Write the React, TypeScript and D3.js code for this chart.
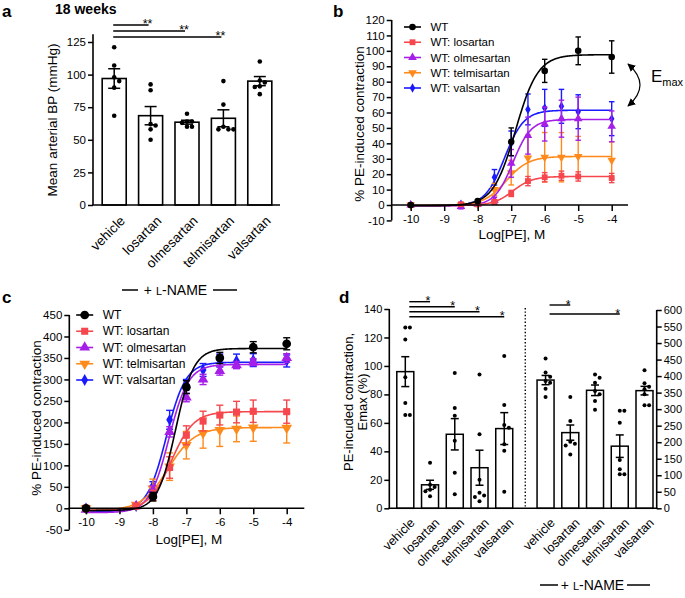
import React, { useEffect, useRef } from 'react';
import * as d3 from 'd3';

const FONT = '"Liberation Sans", Arial, Helvetica, sans-serif';

// ---- panel a: mean arterial BP, 18 weeks
const drugs = ['vehicle', 'losartan', 'olmesartan', 'telmisartan', 'valsartan'];
const bpMean = [97, 68.5, 63.5, 66.5, 95];
const bpSem = [7.5, 7, 1.5, 6.5, 3.5];
const bpDots = [
  [121, 107, 98, 95, 90, 68.5],
  [92.5, 88, 62, 61, 58, 50],
  [70, 64, 64, 63, 60, 60],
  [95, 77, 60, 58, 58, 58],
  [110, 95.5, 94, 91, 90.5, 85],
];
const bpTicks = [0, 25, 50, 75, 100, 125];
const bpSig: [number, number, string][] = [[0, 1, '**'], [0, 2, '**'], [0, 3, '**']];

// ---- panels b, c: PE concentration-response
const series = ['WT', 'WT: losartan', 'WT: olmesartan', 'WT: telmisartan', 'WT: valsartan'];
const seriesColors = ['#000000', '#F5474D', '#A51FE8', '#FF8A1C', '#1A1AFF'];
const wtDoses = [-10, -8, -7, -6, -5, -4];
const arbDoses = [-10, -8.5, -8, -7.5, -7, -6.5, -6, -5.5, -5, -4];
const doseTicks = [-10, -9, -8, -7, -6, -5, -4];

const peTicks = [-10, 0, 10, 20, 30, 40, 50, 60, 70, 80, 90, 100, 110, 120];
const peMean = [
  [0, 2.5, 41, 87, 100, 96],
  [0, 0.5, 0.5, 2, 7.5, 15.5, 18, 19, 18.5, 17.5],
  [0, -1, 0.5, 3, 27, 45, 52.5, 56, 56, 51],
  [0, 0, 0.5, 10, 21, 30.5, 31, 31, 31.5, 29],
  [0, 0.5, 1.5, 18, 40, 62, 63, 64, 60.5, 56],
];
const peSem = [
  [1, 1, 9, 7.5, 9, 10.5],
  [1, 1, 1, 1.5, 2, 3, 3, 3, 3, 3],
  [0.5, 1.5, 1, 2, 9, 12, 11, 12, 14, 10],
  [0.5, 0.5, 1, 4, 8, 15, 16, 16, 13, 12],
  [0.5, 0.5, 1, 5, 8, 10, 12, 11, 11, 11],
];
// fitted curves: bottom, top, logEC50, hill slope
const peFit = [
  [-0.5, 97.5, -6.87, 1.3],
  [-0.3, 18.5, -6.95, 1.5],
  [-0.5, 55.5, -6.95, 1.6],
  [-0.3, 31.5, -7.15, 1.3],
  [-0.5, 61.5, -7.2, 1.5],
];

const lnTicks = [-50, 0, 50, 100, 150, 200, 250, 300, 350, 400, 450];
const lnMean = [
  [0, 27, 282, 350, 375, 383],
  [0, 5, 30, 95, 170, 203, 217, 224, 226, 225],
  [-3, 5, 42, 178, 258, 300, 320, 333, 340, 350],
  [0, 8, 46, 97, 147, 175, 182, 185, 188, 187],
  [0, 5, 52, 206, 288, 322, 344, 343, 345, 343],
];
const lnSem = [
  [3, 10, 15, 13, 13, 14],
  [3, 4, 12, 25, 22, 23, 23, 25, 26, 27],
  [3, 4, 10, 12, 10, 12, 10, 8, 8, 10],
  [3, 4, 22, 32, 32, 35, 38, 30, 32, 35],
  [3, 4, 10, 22, 12, 15, 15, 16, 15, 14],
];
const lnFit = [
  [-5, 372, -7.32, 1.6],
  [-5, 225, -7.45, 1.3],
  [-10, 335, -7.52, 1.5],
  [-5, 188, -7.55, 1.1],
  [-8, 340, -7.6, 1.5],
];

// ---- panel d: Emax
const emaxTicks = [0, 20, 40, 60, 80, 100, 120, 140];
const emaxMean = [96, 16.5, 52, 28.5, 56];
const emaxSem = [10.5, 3.2, 11, 12.3, 11.2];
const emaxDots = [
  [127, 127, 118.5, 92, 74, 65.5, 65.5],
  [32, 16.5, 15, 13, 12, 8.5],
  [95, 70.5, 65, 47.5, 25, 9.8],
  [94, 52, 20, 11, 9, 8, 5],
  [107, 72.6, 58.5, 56.6, 45, 40.5, 11.7],
];
const lnEmaxTicks = [0, 50, 100, 150, 200, 250, 300, 350, 400, 450, 500, 550, 600];
const lnEmaxMean = [388, 229, 357, 188, 356];
const lnEmaxSem = [14, 23, 16, 34, 13];
const lnEmaxDots = [
  [453, 411, 398, 385, 380, 362, 337],
  [337, 264, 201, 195, 190, 163],
  [405, 395, 380, 355, 345, 325, 298],
  [295, 295, 259, 146, 118, 103, 103],
  [418, 378, 368, 360, 345, 312, 312],
];
const emaxSig: [number, number, string][] = [[0, 1, '*'], [0, 2, '*'], [0, 3, '*'], [0, 4, '*']];
const lnEmaxSig: [number, number, string][] = [[0, 1, '*'], [0, 3, '*']];

const symbolTypes = [d3.symbolCircle, d3.symbolSquare, d3.symbolTriangle, d3.symbolTriangle, d3.symbolDiamond];
const symbolRot = [0, 0, 0, 180, 0];

const logistic = (x: number, p: number[]) => p[0] + (p[1] - p[0]) / (1 + Math.pow(10, (p[2] - x) * p[3]));

const seg = (g: any, x1: number, y1: number, x2: number, y2: number, w = 1.5, c = '#000') =>
  g.append('line').attr('x1', x1).attr('y1', y1).attr('x2', x2).attr('y2', y2)
    .attr('stroke', c).attr('stroke-width', w);

const errBar = (g: any, x: number, y0: number, y1: number, cap: number, c = '#000', w = 1.5) => {
  seg(g, x, y0, x, y1, w, c);
  seg(g, x - cap / 2, y0, x + cap / 2, y0, w, c);
  seg(g, x - cap / 2, y1, x + cap / 2, y1, w, c);
};

const tidyAxis = (g: any, size: number) => {
  g.attr('font-family', FONT).attr('font-size', size);
  g.select('.domain').remove();
  g.selectAll('.tick line').attr('stroke', '#000').attr('stroke-width', 1.5);
  g.selectAll('.tick text').attr('fill', '#000');
};

// simple swarm so dots with close values sit side by side
const swarm = (vals: number[], y: (v: number) => number, d: number) => {
  const placed: { x: number; y: number }[] = [];
  const cands = [0, d, -d, 2 * d, -2 * d, 3 * d, -3 * d];
  return vals.map(v => {
    const py = y(v);
    let ox = 0;
    for (const c of cands) {
      if (placed.every(p => Math.hypot(p.x - c, p.y - py) >= d - 0.3)) { ox = c; break; }
    }
    placed.push({ x: ox, y: py });
    return ox;
  });
};

const lName = (svg: any, cx: number, baseline: number, l1: number[], l2: number[]) => {
  const t = svg.append('text').attr('x', cx).attr('y', baseline).attr('text-anchor', 'middle')
    .attr('font-size', 14);
  t.append('tspan').text('+ ');
  t.append('tspan').attr('font-size', 11).text('L');
  t.append('tspan').text('-NAME');
  seg(svg, l1[0], baseline - 5, l1[1], baseline - 5, 1.5);
  seg(svg, l2[0], baseline - 5, l2[1], baseline - 5, 1.5);
};

const drawA = (svg: any) => {
  const g = svg.append('g');
  const x = d3.scaleBand().domain(drugs).range([96, 278]).paddingInner(0.34).paddingOuter(0.17);
  const y = d3.scaleLinear().domain([0, 125]).range([205, 42]);
  const bw = x.bandwidth();

  drugs.forEach((d, i) => {
    const cx = (x(d) as number) + bw / 2;
    g.append('rect').attr('x', x(d)).attr('y', y(bpMean[i])).attr('width', bw)
      .attr('height', y(0) - y(bpMean[i])).attr('fill', '#fff').attr('stroke', '#000').attr('stroke-width', 1.6);
    errBar(g, cx, y(bpMean[i] - bpSem[i]), y(bpMean[i] + bpSem[i]), 12);
    const off = swarm(bpDots[i], y, 5);
    bpDots[i].forEach((v, j) => {
      g.append('circle').attr('cx', cx + off[j]).attr('cy', y(v)).attr('r', 2.3).attr('fill', '#000');
    });
  });

  const ya = g.append('g').attr('transform', 'translate(93,0)')
    .call(d3.axisLeft(y).tickValues(bpTicks).tickSize(5).tickPadding(2).tickFormat((v: any) => String(v)));
  tidyAxis(ya, 11.5);
  seg(g, 93, y(0), 93, y(131), 1.6);
  seg(g, 92.2, y(0), 280, y(0), 1.6);

  drugs.forEach(d => {
    const cx = (x(d) as number) + bw / 2;
    g.append('text').attr('text-anchor', 'end').attr('font-size', 13.5)
      .attr('transform', `translate(${cx + 5},${y(0) + 10}) rotate(-45)`).attr('dy', '0.7em').text(d);
  });

  bpSig.forEach(([a, b, s], k) => {
    const x1 = (x(drugs[a]) as number) + bw / 2 - 1;
    const x2 = (x(drugs[b]) as number) + bw / 2 - 2;
    const ly = 25 + k * 6;
    seg(g, x1, ly, x2, ly, 1.5);
    g.append('text').attr('x', x2 - 1).attr('y', ly + 3).attr('text-anchor', 'middle')
      .attr('font-size', 12.5).text(s);
  });

  g.append('text').attr('transform', `translate(57,120) rotate(-90)`).attr('text-anchor', 'middle')
    .attr('font-size', 13.5).text('Mean arterial BP (mmHg)');
  g.append('text').attr('x', 55).attr('y', 14).attr('font-size', 14).attr('font-weight', 'bold').text('18 weeks');
  g.append('text').attr('x', 2).attr('y', 17).attr('font-size', 17).attr('font-weight', 'bold').text('a');
};

const drawDose = (svg: any, o: any) => {
  const g = svg.append('g');
  const { x, y } = o;
  for (let s = series.length - 1; s >= 0; s--) {
    const doses = s === 0 ? wtDoses : arbDoses;
    const col = seriesColors[s];
    doses.forEach((d, j) => {
      const m = o.means[s][j], e = o.sems[s][j];
      if (e > 0.6 * o.minErr) errBar(g, x(d), y(m - e), y(m + e), o.cap, col, 1.4);
    });
    const xs = d3.range(-10, -4, 0.025).concat([-4]);
    g.append('path').attr('d', d3.line<number>().x(v => x(v)).y(v => y(logistic(v, o.fits[s])))(xs))
      .attr('fill', 'none').attr('stroke', col).attr('stroke-width', 1.6);
    const sym = d3.symbol().type(symbolTypes[s]).size(o.sizes[s])();
    doses.forEach((d, j) => {
      g.append('path').attr('d', sym).attr('fill', col)
        .attr('transform', `translate(${x(d)},${y(o.means[s][j])}) rotate(${symbolRot[s]})`);
    });
  }

  const ya = g.append('g').attr('transform', `translate(${o.axisX},0)`)
    .call(d3.axisLeft(y).tickValues(o.yTicks).tickSize(5).tickPadding(2).tickFormat((v: any) => String(v)));
  tidyAxis(ya, 11.5);
  seg(g, o.axisX, y(o.yTicks[0]), o.axisX, y(o.yTicks[o.yTicks.length - 1]), 1.6);
  const xa = g.append('g').attr('transform', `translate(0,${y(0)})`)
    .call(d3.axisBottom(x).tickValues(doseTicks).tickSize(6).tickPadding(4).tickFormat((v: any) => String(v)));
  tidyAxis(xa, 11.5);
  seg(g, o.axisX - 0.8, y(0), o.xEnd, y(0), 1.6);

  g.append('text').attr('x', (o.axisX + o.xEnd) / 2 + 2).attr('y', o.xLabelY).attr('text-anchor', 'middle')
    .attr('font-size', 13.5).text('Log[PE], M');
  g.append('text').attr('transform', `translate(${o.yLabelX},${o.yLabelY}) rotate(-90)`)
    .attr('text-anchor', 'middle').attr('font-size', 13.5).text('% PE-induced contraction');

  series.forEach((name, s) => {
    const ly = o.legend.y + s * o.legend.step;
    const lx = o.legend.x;
    seg(g, lx - 8.5, ly, lx + 8.5, ly, 1.6, seriesColors[s]);
    g.append('path').attr('d', d3.symbol().type(symbolTypes[s]).size(o.sizes[s])()).attr('fill', seriesColors[s])
      .attr('transform', `translate(${lx},${ly}) rotate(${symbolRot[s]})`);
    g.append('text').attr('x', lx + 18).attr('y', ly + 4).attr('font-size', o.legend.font).text(name);
  });
};

const drawD = (svg: any) => {
  const g = svg.append('g');
  const gap = 5.67;
  const x = d3.scaleLinear().domain([0, 9.67]).range([405.3, 644.5]);
  const yL = d3.scaleLinear().domain([0, 140]).range([508.3, 309]);
  const yR = d3.scaleLinear().domain([0, 600]).range([508.3, 310]);
  const bw = 17;

  const group = (means: number[], sems: number[], dots: number[][], y: any, shift: number) => {
    drugs.forEach((d, i) => {
      const cx = x(i + shift);
      g.append('rect').attr('x', cx - bw / 2).attr('y', y(means[i])).attr('width', bw)
        .attr('height', y(0) - y(means[i])).attr('fill', '#fff').attr('stroke', '#000').attr('stroke-width', 1.5);
      errBar(g, cx, y(means[i] - sems[i]), y(means[i] + sems[i]), 8);
      const off = swarm(dots[i], y, 4.6);
      dots[i].forEach((v, j) => {
        g.append('circle').attr('cx', cx + off[j]).attr('cy', y(v)).attr('r', 2).attr('fill', '#000');
      });
      g.append('text').attr('text-anchor', 'end').attr('font-size', 12.5)
        .attr('transform', `translate(${cx + 4},${y(0) + 9}) rotate(-45)`).attr('dy', '0.7em').text(d);
    });
  };
  group(emaxMean, emaxSem, emaxDots, yL, 0);
  group(lnEmaxMean, lnEmaxSem, lnEmaxDots, yR, gap);

  const sig = (list: [number, number, string][], shift: number, y0: number, step: number) => {
    list.forEach(([a, b, s], k) => {
      const x1 = x(a + shift) + 4, x2 = x(b + shift);
      const ly = y0 + k * step;
      seg(g, x1, ly, x2, ly, 1.4);
      g.append('text').attr('x', x2 - 2).attr('y', ly + 3.5).attr('text-anchor', 'middle')
        .attr('font-size', 12.5).text(s);
    });
  };
  sig(emaxSig, 0, 301.7, 5);
  sig(lnEmaxSig, gap, 305, 9);

  const ya = g.append('g').attr('transform', 'translate(389.3,0)')
    .call(d3.axisLeft(yL).tickValues(emaxTicks).tickSize(5).tickPadding(2).tickFormat((v: any) => String(v)));
  tidyAxis(ya, 11);
  seg(g, 389.3, yL(0), 389.3, yL(140), 1.6);
  const yb = g.append('g').attr('transform', 'translate(656.7,0)')
    .call(d3.axisRight(yR).tickValues(lnEmaxTicks).tickSize(5).tickPadding(2).tickFormat((v: any) => String(v)));
  tidyAxis(yb, 11);
  seg(g, 656.7, yR(0), 656.7, yR(600), 1.6);
  seg(g, 388.5, yL(0), 657.5, yL(0), 1.6);
  seg(g, x(4.85), 308, x(4.85), yL(0), 1.4).attr('stroke-dasharray', '1.4,2');

  g.append('text').attr('transform', 'translate(353,402) rotate(-90)').attr('text-anchor', 'middle')
    .attr('font-size', 13).text('PE-incuded contraction,');
  g.append('text').attr('transform', 'translate(367,402) rotate(-90)').attr('text-anchor', 'middle')
    .attr('font-size', 13).text('Emax (%)');
  g.append('text').attr('x', 339).attr('y', 303).attr('font-size', 17).attr('font-weight', 'bold').text('d');
};

const App = () => {
  const ref = useRef<SVGSVGElement | null>(null);

  useEffect(() => {
    document.body.style.margin = '0';
    const svg = d3.select(ref.current);
    svg.selectAll('*').remove();
    svg.attr('font-family', FONT);

    drawA(svg);

    // b
    const xb = d3.scaleLinear().domain([-10, -4]).range([410.7, 611.7]);
    const yb = d3.scaleLinear().domain([0, 120]).range([205, 20]);
    drawDose(svg, {
      x: xb, y: yb, means: peMean, sems: peSem, fits: peFit, yTicks: peTicks,
      axisX: 391.7, xEnd: 628, xLabelY: 239, yLabelX: 364, yLabelY: 124,
      cap: 5.5, minErr: 1.2, sizes: [34, 34, 32, 32, 26],
      legend: { x: 412.5, y: 27, step: 15.25, font: 11.5 },
    });
    svg.append('text').attr('x', 333).attr('y', 17).attr('font-size', 17).attr('font-weight', 'bold').text('b');
    svg.append('path').attr('d', 'M628,64 Q652,85 628,106').attr('fill', 'none')
      .attr('stroke', '#000').attr('stroke-width', 1.2)
      .attr('marker-start', 'url(#arrowHead)').attr('marker-end', 'url(#arrowHead)');
    const em = svg.append('text').attr('x', 651).attr('y', 82).attr('font-size', 17);
    em.append('tspan').text('E');
    em.append('tspan').attr('font-size', 11).attr('dy', 4).text('max');

    // c
    const xc = d3.scaleLinear().domain([-10, -4]).range([86, 286.7]);
    const yc = d3.scaleLinear().domain([0, 450]).range([508.3, 315]);
    drawDose(svg, {
      x: xc, y: yc, means: lnMean, sems: lnSem, fits: lnFit, yTicks: lnTicks,
      axisX: 69.3, xEnd: 304.3, xLabelY: 544, yLabelX: 41, yLabelY: 418,
      cap: 7, minErr: 4, sizes: [60, 50, 50, 50, 40],
      legend: { x: 84.7, y: 315, step: 16.25, font: 12 },
    });
    svg.append('text').attr('x', 2).attr('y', 303).attr('font-size', 17).attr('font-weight', 'bold').text('c');
    lName(svg, 175.5, 295, [122, 138], [213, 237]);

    drawD(svg);
    lName(svg, 592.5, 590, [540, 558], [627, 650]);

    const defs = svg.append('defs');
    defs.append('marker').attr('id', 'arrowHead').attr('viewBox', '0 0 10 10').attr('refX', 9).attr('refY', 5)
      .attr('markerWidth', 8).attr('markerHeight', 8).attr('orient', 'auto-start-reverse')
      .attr('markerUnits', 'userSpaceOnUse')
      .append('path').attr('d', 'M0,0 L10,5 L0,10 z').attr('fill', '#000');
  }, []);

  return <svg ref={ref} width={685} height={598} style={{ display: 'block', background: '#fff' }} />;
};

export default App;
